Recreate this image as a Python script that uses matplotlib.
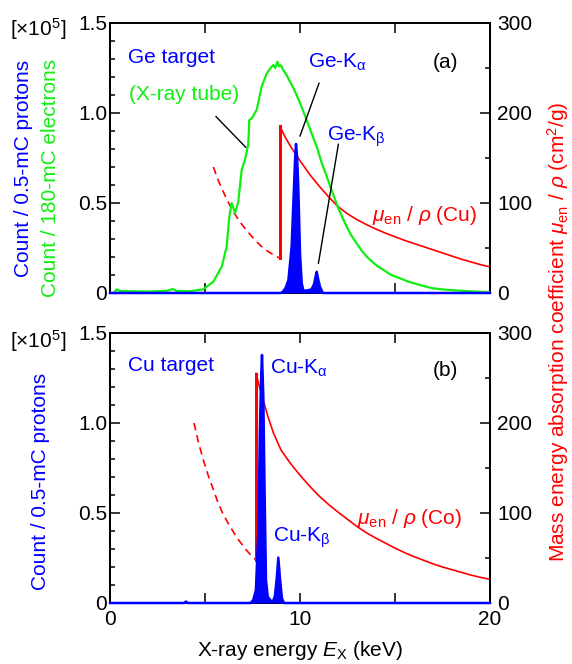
import matplotlib
matplotlib.use("Agg")
import matplotlib.pyplot as plt
from matplotlib.ticker import MultipleLocator, FixedLocator

plt.rcParams["font.family"] = ["Liberation Sans", "DejaVu Sans"]
plt.rcParams["mathtext.fontset"] = "custom"
plt.rcParams["mathtext.rm"] = "Liberation Sans"
plt.rcParams["mathtext.it"] = "Liberation Sans:italic"
plt.rcParams["mathtext.bf"] = "Liberation Sans:bold"

# ---------------- data ----------------
# (a) X-ray tube spectrum (x1e5 counts / 180-mC electrons)
tube_energy = [0.2, 0.35, 0.5, 1.0, 2.0, 3.0, 3.3, 3.5, 4.2, 4.9, 5.44, 5.88,
               6.14, 6.28, 6.40, 6.50, 6.58, 6.75, 6.93, 7.10, 7.19, 7.28,
               7.33, 7.46, 7.72, 7.98, 8.25, 8.45, 8.60, 8.70, 8.81, 8.90,
               9.00, 9.12, 9.30, 9.47, 9.65, 9.82, 10.10, 10.35, 10.60, 10.88,
               11.15, 11.40, 11.70, 12.02, 12.25, 12.46, 12.70, 12.98, 13.25,
               13.51, 14.00, 14.39, 14.80, 15.26, 15.70, 16.14, 16.60, 17.0,
               17.7, 18.4, 19.2, 20.0]
tube_counts = [0.0, 0.02, 0.012, 0.01, 0.008, 0.012, 0.022, 0.012, 0.01, 0.02,
               0.063, 0.146, 0.257, 0.424, 0.50, 0.47, 0.443, 0.507, 0.683,
               0.739, 0.78, 0.83, 0.96, 0.97, 1.017, 1.146, 1.22, 1.25, 1.267,
               1.25, 1.285, 1.26, 1.265, 1.239, 1.21, 1.174, 1.14, 1.10, 1.03,
               0.961, 0.89, 0.813, 0.72, 0.65, 0.56, 0.47, 0.415, 0.368, 0.32,
               0.276, 0.235, 0.202, 0.155, 0.128, 0.10, 0.082, 0.063, 0.05,
               0.036, 0.026, 0.018, 0.013, 0.008, 0.004]

# (a) Ge target, PIXE spectrum (x1e5 counts / 0.5-mC protons)
ge_energy = [0.0, 9.0, 9.12, 9.25, 9.39, 9.56, 9.65, 9.74, 9.79, 9.85, 9.91,
             10.0, 10.09, 10.18, 10.4, 10.61, 10.74, 10.82, 10.88, 10.95,
             11.05, 11.2, 20.0]
ge_counts = [0.0, 0.0, 0.01, 0.03, 0.072, 0.257, 0.498, 0.74, 0.828, 0.75,
             0.59, 0.22, 0.054, 0.012, 0.015, 0.02, 0.05, 0.09, 0.118, 0.08,
             0.035, 0.0, 0.0]

# (b) Cu target, PIXE spectrum
cu_energy = [0.0, 3.9, 4.0, 4.1, 7.4, 7.54, 7.68, 7.81, 7.89, 7.95, 8.0, 8.07,
             8.14, 8.21, 8.3, 8.5, 8.6, 8.68, 8.77, 8.86, 8.95, 9.05, 9.16,
             20.0]
cu_counts = [0.0, 0.0, 0.008, 0.0, 0.0, 0.017, 0.072, 0.405, 0.96, 1.24,
             1.378, 1.146, 0.59, 0.128, 0.035, 0.008, 0.015, 0.04, 0.13, 0.252,
             0.13, 0.025, 0.0, 0.0]

# mass energy absorption coefficients (cm^2/g)
mu_cu_low_E = [5.44, 5.70, 5.96, 6.22, 6.49, 6.84, 7.19, 7.54, 7.89, 8.25,
               8.60, 8.95]
mu_cu_low = [140, 125, 112.6, 101, 90.4, 79, 69.5, 61, 53.3, 47, 42.5, 38.5]
mu_cu_high_E = [8.95, 9.2, 9.5, 10.0, 10.5, 11.0, 11.5, 12.0, 12.5, 13.0,
                13.5, 14.0, 14.5, 15.0, 15.5, 16.0, 16.5, 17.0, 17.5, 18.0,
                18.5, 19.0, 19.5, 20.0]
mu_cu_high = [185, 174, 163, 147, 132, 119, 107, 96, 88, 81.5, 76, 71, 66.5,
              62.5, 58.5, 55, 51.5, 48, 44.5, 41, 37.5, 34.5, 31.5, 29]

mu_co_low_E = [4.42, 4.65, 4.91, 5.18, 5.44, 5.66, 5.88, 6.10, 6.32, 6.58,
               6.84, 7.15, 7.46, 7.68]
mu_co_low = [200, 179, 159, 141, 126, 113, 102, 93, 85, 76, 68, 59.5, 52, 48]
mu_co_high_E = [7.68, 8.0, 8.3, 8.6, 9.0, 9.5, 10.0, 10.5, 11.0, 11.5, 12.0,
                12.5, 13.0, 13.5, 14.0, 14.5, 15.0, 15.5, 16.0, 16.5, 17.0,
                17.5, 18.0, 18.5, 19.0, 19.5, 20.0]
mu_co_high = [255, 230, 208, 189, 170, 155, 142, 130, 119, 109.5, 101, 93, 85,
              78, 72, 66.5, 61, 56, 51.5, 47.5, 43.5, 40, 37, 34, 31, 28.5,
              26.3]

# ---------------- styling ----------------
FS = 15
BLUE = "#0000ff"
GREEN = "#11ee11"
RED = "#ff0000"

W, H = 572, 664
fig = plt.figure(figsize=(W / 100, H / 100), dpi=100)
ax_a = fig.add_axes([110 / W, 1 - 293 / H, 380 / W, 270 / H])
ax_b = fig.add_axes([110 / W, 1 - 603 / H, 380 / W, 270 / H])


def setup(ax, show_xlabels):
    tw = ax.twinx()
    tw.set_zorder(ax.get_zorder() - 1)
    ax.patch.set_visible(False)
    ax.set_xlim(0, 20)
    ax.set_ylim(0, 1.5)
    tw.set_ylim(0, 300)
    for a in (ax, tw):
        for s in a.spines.values():
            s.set_linewidth(1.4)
    ax.xaxis.set_major_locator(FixedLocator([0, 5, 10, 15, 20]))
    if show_xlabels:
        ax.set_xticklabels(["0", "", "10", "", "20"])
    else:
        ax.set_xticklabels([])
    ax.yaxis.set_major_locator(FixedLocator([0, 0.5, 1.0, 1.5]))
    ax.set_yticklabels(["0", "0.5", "1.0", "1.5"])
    ax.yaxis.set_minor_locator(MultipleLocator(0.1))
    tw.yaxis.set_major_locator(FixedLocator([0, 100, 200, 300]))
    tw.yaxis.set_minor_locator(MultipleLocator(50))
    ax.tick_params(axis="x", which="both", direction="in", top=True,
                   length=7, width=1.1, labelsize=FS, pad=5)
    ax.tick_params(axis="y", which="major", direction="in", length=7,
                   width=1.1, labelsize=FS, pad=2)
    ax.tick_params(axis="y", which="minor", direction="in", length=3.5,
                   width=1.1)
    tw.tick_params(axis="y", which="major", direction="in", length=7,
                   width=1.1, labelsize=FS, pad=5)
    tw.tick_params(axis="y", which="minor", direction="in", length=3.5,
                   width=1.1)
    return tw


tw_a = setup(ax_a, False)
tw_b = setup(ax_b, True)

# ---- panel (a) ----
tw_a.plot(mu_cu_low_E, mu_cu_low, color=RED, lw=1.2, ls=(0, (4.5, 3)))
tw_a.plot(mu_cu_high_E, mu_cu_high, color=RED, lw=1.2)
tw_a.plot([mu_cu_high_E[0]] * 2, [mu_cu_low[-1], mu_cu_high[0]], color=RED,
          lw=2.2)

ax_a.plot(tube_energy, tube_counts, color=GREEN, lw=1.6, zorder=3)
ax_a.fill_between(ge_energy, 0, ge_counts, color=BLUE, lw=0, zorder=4)
ax_a.plot(ge_energy, ge_counts, color=BLUE, lw=1.8, zorder=4, clip_on=False)

ax_a.text(0.95, 1.31, "Ge target", color=BLUE, fontsize=FS, va="center")
ax_a.text(1.0, 1.10, "(X-ray tube)", color=GREEN, fontsize=FS, va="center")
ax_a.text(10.42, 1.28, r"Ge-K$_\mathrm{\alpha}$", color=BLUE, fontsize=FS,
          va="center")
ax_a.text(11.42, 0.87, r"Ge-K$_\mathrm{\beta}$", color=BLUE, fontsize=FS,
          va="center")
ax_a.text(17.0, 1.28, "(a)", color="black", fontsize=FS, va="center")
ax_a.text(13.8, 0.43, r"$\mu_\mathrm{en}$ / $\rho$ (Cu)", color=RED,
          fontsize=FS, va="center")
ax_a.plot([5.58, 7.14], [0.98, 0.81], color="black", lw=1.0, zorder=5)
ax_a.plot([11.0, 10.0], [1.165, 0.872], color="black", lw=1.0, zorder=5)
ax_a.plot([12.02, 10.97], [0.826, 0.165], color="black", lw=1.0, zorder=5)

# ---- panel (b) ----
tw_b.plot(mu_co_low_E, mu_co_low, color=RED, lw=1.2, ls=(0, (4.5, 3)))
tw_b.plot(mu_co_high_E, mu_co_high, color=RED, lw=1.2)
tw_b.plot([mu_co_high_E[0]] * 2, [mu_co_low[-1], mu_co_high[0]], color=RED,
          lw=2.2)

ax_b.fill_between(cu_energy, 0, cu_counts, color=BLUE, lw=0, zorder=4)
ax_b.plot(cu_energy, cu_counts, color=BLUE, lw=1.8, zorder=4, clip_on=False)

ax_b.text(0.95, 1.32, "Cu target", color=BLUE, fontsize=FS, va="center")
ax_b.text(8.42, 1.305, r"Cu-K$_\mathrm{\alpha}$", color=BLUE, fontsize=FS,
          va="center")
ax_b.text(8.6, 0.36, r"Cu-K$_\mathrm{\beta}$", color=BLUE, fontsize=FS,
          va="center")
ax_b.text(17.0, 1.29, "(b)", color="black", fontsize=FS, va="center")
ax_b.text(12.98, 0.47, r"$\mu_\mathrm{en}$ / $\rho$ (Co)", color=RED,
          fontsize=FS, va="center")

ax_b.set_xlabel(r"X-ray energy $E_\mathrm{X}$ (keV)", fontsize=FS, labelpad=7)

# ---- axis titles placed on the figure ----
fig.text(24 / W, 1 - 168 / H, "Count / 0.5-mC protons", color=BLUE,
         fontsize=FS, rotation=90, ha="center", va="center")
fig.text(51 / W, 1 - 178 / H, "Count / 180-mC electrons", color=GREEN,
         fontsize=FS, rotation=90, ha="center", va="center")
fig.text(41 / W, 1 - 481 / H, "Count / 0.5-mC protons", color=BLUE,
         fontsize=FS, rotation=90, ha="center", va="center")
fig.text(38 / W, 1 - 29 / H, r"[$\times$10$^5$]", color="black", fontsize=FS,
         ha="center", va="center")
fig.text(38 / W, 1 - 341 / H, r"[$\times$10$^5$]", color="black", fontsize=FS,
         ha="center", va="center")
fig.text(558 / W, 1 - 332 / H,
         r"Mass energy absorption coefficient $\mu_\mathrm{en}$ / $\rho$ (cm$^2$/g)",
         color=RED, fontsize=FS, rotation=90, ha="center", va="center")

fig.savefig("out.png", dpi=100)
